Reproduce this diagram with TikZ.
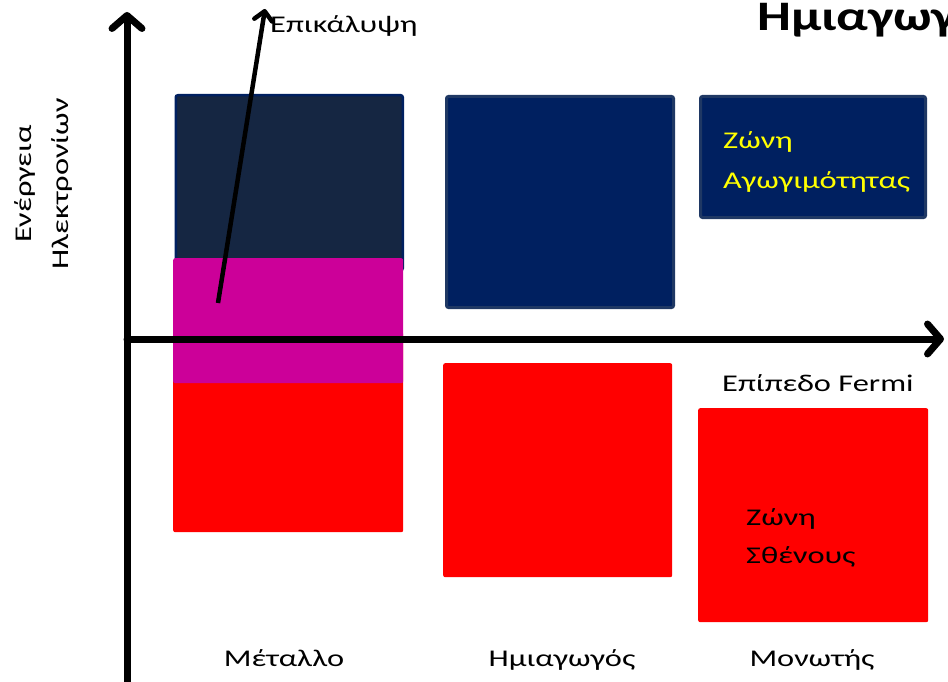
\documentclass[tikz,border=0pt]{standalone}
\usepackage{fontspec}
\setmainfont{Carlito}[FakeStretch=1.35]
\newfontfamily\titlefont{Carlito}[FakeStretch=1.28]
\usetikzlibrary{arrows.meta}
\definecolor{navy}{RGB}{0,32,96}
\definecolor{darknavy}{RGB}{21,38,66}
\definecolor{navyedge}{RGB}{31,56,100}
\definecolor{mag}{RGB}{204,0,153}
\definecolor{myred}{RGB}{255,0,0}
\definecolor{myyellow}{RGB}{255,255,0}
\tikzset{
  band/.style={anchor=north west, inner sep=0pt, rounded corners=2pt},
  lbl/.style={inner sep=0pt, font=\fontsize{24}{28}\selectfont},
  axis/.style={line width=7pt, line cap=round, line join=round,
    -{Straight Barb[length=13pt,width=30pt,line cap=round,line join=round]}},
  ovarrow/.style={line width=4.5pt, -{Straight Barb[length=9pt,width=18pt,line cap=round,line join=round]}}
}
\begin{document}
\begin{tikzpicture}[x=1pt,y=-1pt]
\clip (0,0) rectangle (948,682);
\useasboundingbox (0,0) rectangle (948,682);
% metal
\node[band, fill=darknavy, draw=navy, line width=2.5pt, minimum width=227pt, minimum height=175pt] (mc) at (174.5,94) {};
\node[band, fill=myred, minimum width=230pt, minimum height=200pt] (mv) at (173,332) {};
\node[band, fill=mag, minimum width=230pt, minimum height=125pt] (mo) at (173,258) {};
% semiconductor
\node[band, fill=navy, draw=navyedge, line width=3pt, minimum width=227pt, minimum height=211pt] (sc) at (445,95) {};
\node[band, fill=myred, minimum width=229pt, minimum height=214pt] (sv) at (443,363) {};
% insulator
\node[band, fill=navy, draw=navyedge, line width=3pt, minimum width=225pt, minimum height=121pt] (ic) at (699,95) {};
\node[band, fill=myred, minimum width=230pt, minimum height=214pt] (iv) at (698,408) {};
% texts in boxes
\node[lbl, anchor=base west, text=myyellow] (t1) at (723,149) {Ζώνη};
\node[lbl, anchor=base west, text=myyellow] (t2) at (723,189) {Αγωγιμότητας};
\node[lbl, anchor=base west] (t3) at (746,525) {Ζώνη};
\node[lbl, anchor=base west] (t4) at (746,563) {Σθένους};
% axes
\coordinate (ybot) at (127,690);
\coordinate (ytop) at (127,12);
\coordinate (O) at (127,339);
\coordinate (xend) at (944,339);
\draw[axis] (ybot) -- (ytop);
\draw[axis] (O) -- (xend);
% overlap arrow
\coordinate (ovs) at (218,303);
\coordinate (ovt) at (265,9);
\draw[ovarrow] (ovs) -- (ovt);
\node[lbl, anchor=base west] (ov) at (270,33) {Επικάλυψη};
% labels
\node[lbl, anchor=base west] (fermi) at (722,391) {Επίπεδο Fermi};
\node[lbl, anchor=base] (met) at (284,666) {Μέταλλο};
\node[lbl, anchor=base] (semi) at (562,666) {Ημιαγωγός};
\node[lbl, anchor=base] (ins) at (812,666) {Μονωτής};
\node[lbl, rotate=90, align=center, font=\fontsize{24}{37}\selectfont] (ylab) at (43,184) {Ενέργεια\\Ηλεκτρονίων};
\node[inner sep=0pt, anchor=base west, font=\titlefont\fontsize{42}{48}\selectfont\bfseries] (title) at (757,31) {Ημιαγωγοί};
\end{tikzpicture}
\end{document}
